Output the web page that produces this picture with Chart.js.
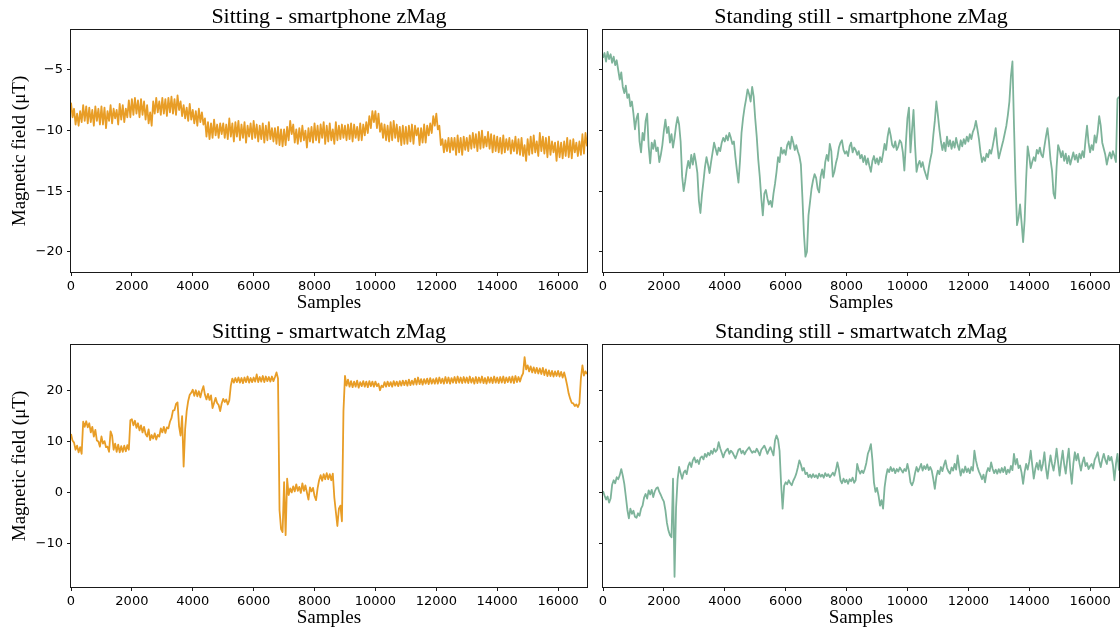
<!DOCTYPE html>
<html>
<head>
<meta charset="utf-8">
<title>zMag - sitting / standing still</title>
<script src="https://cdn.jsdelivr.net/npm/chart.js@4.4.0/dist/chart.umd.min.js"></script>
<style>
  html, body { margin: 0; padding: 0; background: #fff; }
  #wrap { position: relative; width: 1120px; height: 633px; overflow: hidden; background: #fff; }
  #wrap canvas { position: absolute; }
</style>
</head>
<body>
<div id="wrap">
  <canvas id="sitPhone" width="592" height="318" style="left:0;top:0"></canvas>
  <canvas id="standPhone" width="528" height="318" style="left:592px;top:0"></canvas>
  <canvas id="sitWatch" width="592" height="318" style="left:0;top:315px"></canvas>
  <canvas id="standWatch" width="528" height="318" style="left:592px;top:315px"></canvas>
</div>
<script>
// one value every 50 samples
var sampleStep = 50;

var xTicks = [0, 2000, 4000, 6000, 8000, 10000, 12000, 14000, 16000];
var phoneTicks = [-20, -15, -10, -5];
var watchTicks = [-10, 0, 10, 20];

// smartphone, sitting
var sitPhoneZ = [
  -7.7, -8.9, -8.2, -9.5, -8.6, -9.6, -8.4, -9.3, -7.9, -9.2, -8.0, -9.4, -8.1, -9.3, -8.3, -9.6, -8.0, -9.2, -8.2, -9.5,
  -8.0, -9.5, -8.1, -9.8, -8.4, -9.2, -7.9, -9.4, -8.2, -9.0, -8.3, -9.5, -7.8, -9.1, -7.9, -9.3, -8.2, -8.9, -7.5, -8.9,
  -7.4, -8.7, -7.3, -8.6, -7.5, -8.9, -7.4, -8.7, -7.6, -9.1, -7.9, -9.4, -8.5, -9.6, -7.6, -8.6, -7.3, -8.5, -7.6, -8.7,
  -7.3, -8.6, -7.4, -8.8, -7.3, -8.5, -7.2, -8.6, -7.4, -8.7, -7.1, -8.3, -7.6, -8.8, -7.9, -9.0, -8.1, -9.2, -7.8, -9.1,
  -8.3, -9.4, -8.4, -9.6, -8.2, -9.3, -8.5, -9.5, -9.0, -10.5, -9.3, -10.7, -9.4, -10.6, -9.1, -10.4, -9.5, -10.6, -9.4, -10.3,
  -9.4, -10.6, -9.5, -10.7, -9.0, -10.5, -9.4, -10.9, -9.3, -10.5, -9.2, -10.8, -9.5, -10.6, -9.3, -11.0, -9.6, -10.5, -9.4, -10.7,
  -9.2, -10.6, -9.5, -10.9, -9.6, -10.7, -9.4, -11.0, -9.6, -10.8, -9.3, -10.7, -9.8, -10.9, -9.8, -11.1, -9.7, -11.2, -9.9, -11.3,
  -9.9, -11.2, -9.7, -10.8, -9.2, -10.3, -9.5, -11.0, -9.9, -11.1, -9.8, -10.9, -9.6, -10.8, -10.0, -11.4, -9.8, -10.9, -9.7, -11.0,
  -9.4, -10.8, -9.6, -11.0, -9.5, -10.6, -9.3, -11.1, -9.6, -10.9, -9.4, -10.8, -9.9, -11.1, -9.3, -10.8, -9.6, -10.7, -9.5, -10.6,
  -9.6, -10.8, -9.5, -10.7, -9.4, -10.9, -9.5, -10.6, -9.7, -10.8, -9.4, -10.8, -9.5, -10.4, -9.3, -10.2, -8.8, -9.8, -8.4, -9.3,
  -8.4, -9.8, -8.6, -10.1, -9.4, -10.6, -9.5, -10.8, -9.6, -10.9, -9.3, -10.8, -9.2, -10.6, -9.5, -10.9, -9.7, -11.2, -9.6, -11.1,
  -9.7, -11.1, -9.6, -10.9, -9.5, -11.1, -9.6, -10.4, -9.8, -11.2, -9.8, -11.0, -9.5, -11.0, -9.6, -10.4, -9.4, -10.2, -8.8, -9.6,
  -8.6, -9.9, -9.6, -11.2, -10.7, -11.8, -10.8, -11.7, -10.6, -11.8, -10.6, -11.6, -10.6, -12.0, -10.4, -11.8, -10.6, -12.0, -10.5, -11.6,
  -10.6, -11.7, -10.4, -11.5, -10.2, -11.4, -10.3, -11.7, -10.1, -11.5, -10.0, -11.4, -10.5, -11.3, -10.1, -11.5, -10.3, -11.8, -10.4, -11.7,
  -10.5, -11.8, -10.6, -11.9, -10.4, -11.8, -10.7, -11.6, -10.6, -11.9, -10.8, -11.7, -10.5, -11.9, -10.7, -12.0, -10.6, -12.1, -11.2, -12.5,
  -10.7, -12.0, -10.5, -11.9, -10.4, -11.8, -10.9, -12.1, -10.2, -11.7, -10.5, -11.9, -10.6, -12.2, -10.5, -12.0, -10.9, -11.8, -11.0, -12.5,
  -10.9, -12.2, -11.0, -12.3, -10.9, -12.1, -10.6, -12.2, -10.8, -12.3, -10.7, -11.8, -11.0, -12.1, -10.9, -12.0, -10.3, -11.9, -10.2, -11.3
];

// smartphone, standing still
var standPhoneZ = [
  -4.0, -3.6, -4.3, -3.5, -4.1, -3.7, -4.4, -3.9, -4.6, -4.2, -5.0, -5.8, -5.2, -6.4, -6.9, -6.3, -7.3, -7.0, -8.0, -7.6,
  -8.6, -9.9, -9.0, -8.6, -10.9, -11.8, -10.2, -10.8, -9.2, -8.6, -11.3, -12.7, -11.0, -11.5, -10.8, -11.7, -11.4, -12.6, -12.0, -11.2,
  -10.0, -9.1, -10.2, -9.7, -11.0, -10.3, -11.4, -10.6, -9.6, -8.9, -9.5, -10.9, -13.8, -15.0, -14.2, -13.2, -12.5, -13.1, -12.0, -12.8,
  -11.9, -12.6, -13.5, -15.8, -16.8, -15.3, -14.2, -13.0, -12.2, -12.8, -13.5, -12.6, -11.8, -11.0, -11.5, -12.0, -11.4, -11.7, -11.0, -10.6,
  -10.9, -10.4, -10.8, -10.2, -10.6, -11.1, -10.9, -12.2, -13.3, -14.3, -12.5, -10.2, -9.0, -8.1, -7.4, -6.6, -7.0, -7.6, -6.4, -7.2,
  -9.0, -10.5, -12.4, -13.8, -15.6, -17.0, -15.2, -14.9, -15.6, -16.1, -15.8, -16.3, -15.2, -14.4, -13.4, -12.2, -12.6, -11.4, -11.9, -11.6,
  -12.0, -11.2, -10.9, -11.5, -10.5, -11.0, -11.6, -11.2, -11.7, -12.1, -12.8, -15.5, -18.5, -20.4, -20.0, -17.0, -15.9, -14.8, -14.1, -13.6,
  -13.9, -14.8, -15.1, -13.8, -13.2, -13.9, -12.6, -12.0, -12.5, -11.1, -11.7, -13.8, -13.4, -12.7, -12.2, -11.4, -11.0, -10.8, -11.6, -11.9,
  -11.7, -12.1, -11.3, -11.0, -11.8, -11.4, -11.6, -12.0, -11.7, -12.3, -12.0, -12.6, -12.1, -12.8, -12.3, -12.9, -13.4, -12.5, -12.1, -12.7,
  -12.3, -12.8, -12.2, -12.6, -11.9, -11.1, -11.6, -10.5, -9.8, -10.4, -11.2, -11.4, -10.9, -11.6, -11.3, -10.8, -11.0, -11.8, -13.3, -11.0,
  -9.0, -8.1, -11.8, -10.0, -8.3, -11.2, -13.4, -12.8, -12.5, -13.0, -12.6, -13.2, -13.6, -14.0, -13.1, -12.4, -11.8, -10.4, -9.2, -7.6,
  -8.7, -9.9, -10.9, -11.6, -11.0, -11.7, -10.5, -11.3, -10.8, -11.5, -10.9, -11.4, -10.6, -11.2, -11.6, -10.8, -11.3, -10.7, -11.1, -10.5,
  -10.9, -10.3, -10.7, -10.1, -9.8, -9.2, -9.9, -10.7, -11.8, -12.6, -12.2, -12.5, -11.9, -12.2, -11.6, -11.9, -11.3, -10.6, -9.8, -11.2,
  -12.3, -11.8, -11.3, -10.8, -10.2, -9.6, -8.7, -7.6, -5.5, -4.3, -9.5, -14.2, -17.8, -17.2, -16.1, -17.6, -19.2, -17.4, -14.0, -11.3,
  -12.1, -13.1, -12.6, -12.2, -12.5, -11.6, -11.9, -11.4, -12.0, -12.2, -11.3, -10.5, -9.8, -10.9, -12.4, -13.3, -15.2, -15.6, -13.0, -11.2,
  -11.6, -12.2, -11.7, -12.5, -11.9, -12.7, -12.1, -12.8, -12.3, -11.8, -12.4, -12.0, -12.6, -11.9, -12.3, -11.7, -12.2, -10.8, -9.6, -11.0,
  -11.8, -11.2, -11.6, -10.4, -11.0, -10.1, -8.8, -9.6, -11.0, -11.5, -12.0, -12.8, -12.2, -11.8, -12.3, -11.7, -12.1, -12.6, -7.4, -7.2
];

// smartwatch, sitting
var sitWatchZ = [
  11.5, 10.2, 9.8, 8.4, 9.2, 7.9, 8.9, 7.6, 13.9, 12.9, 14.0, 12.8, 13.6, 11.8, 12.9, 11.0, 12.3, 10.2, 10.0, 9.0,
  11.0, 9.6, 10.1, 8.9, 9.0, 8.0, 12.0, 11.2, 8.4, 9.6, 8.0, 9.4, 7.9, 9.1, 8.0, 9.2, 8.1, 9.3, 8.4, 14.2,
  14.4, 13.2, 14.1, 12.7, 13.6, 12.2, 13.2, 11.8, 12.9, 11.5, 11.0, 12.4, 10.3, 11.3, 10.6, 11.6, 10.4, 11.3, 11.0, 12.6,
  11.8, 12.9, 11.7, 12.8, 12.6, 13.9, 14.6, 16.1, 16.2, 17.4, 17.7, 13.0, 11.2, 15.0, 5.1, 12.5, 16.0, 18.0, 19.2, 19.6,
  20.2, 19.0, 20.1, 18.9, 19.9, 18.7, 20.0, 20.9, 19.2, 18.3, 19.4, 18.2, 19.1, 16.6, 17.6, 18.6, 17.6, 17.2, 16.0, 17.5,
  18.4, 17.8, 18.3, 17.3, 18.1, 21.0, 22.4, 21.6, 22.5, 21.7, 22.6, 21.6, 22.5, 21.5, 22.6, 21.7, 22.8, 21.6, 22.5, 21.7,
  22.6, 21.8, 23.2, 21.7, 22.7, 21.8, 22.9, 21.7, 22.8, 21.9, 22.7, 21.8, 22.8, 21.9, 22.7, 23.6, 22.4, -3.5, -7.2, -7.8,
  2.0, -8.4, 2.7, -0.5, 0.8, 0.0, 1.2, 0.2, 1.6, 0.3, 1.1, -0.1, 1.8, 0.3, 1.4, 0.0, -1.4, 1.0, 0.2, 0.9,
  -0.7, -1.5, 0.8, 2.4, 3.4, 2.3, 3.6, 2.6, 3.8, 2.6, 3.6, 2.4, 3.7, -1.0, -3.8, -6.6, -3.2, -2.6, -5.7, 16.0,
  22.9, 21.0, 22.2, 20.8, 21.9, 20.7, 21.8, 20.8, 22.0, 20.6, 21.7, 20.9, 21.9, 20.8, 21.8, 20.7, 21.9, 20.9, 21.8, 20.8,
  21.8, 20.9, 21.4, 20.1, 21.0, 20.7, 21.7, 20.8, 21.8, 20.9, 21.7, 20.8, 21.9, 21.0, 21.8, 20.9, 21.9, 21.0, 22.0, 21.1,
  22.0, 21.0, 22.2, 21.1, 22.0, 21.2, 22.4, 21.2, 22.6, 21.3, 22.3, 21.2, 22.3, 21.4, 22.4, 21.3, 22.5, 21.4, 22.3, 21.4,
  22.5, 21.4, 22.6, 21.5, 22.4, 21.4, 22.7, 21.5, 22.6, 21.4, 22.5, 21.6, 22.7, 21.5, 22.8, 21.6, 22.6, 21.5, 22.7, 21.6,
  22.6, 21.5, 22.8, 21.6, 22.5, 21.4, 22.7, 21.5, 22.6, 21.6, 22.8, 21.5, 22.5, 21.4, 22.7, 21.6, 22.6, 21.5, 22.8, 21.6,
  22.6, 21.5, 22.7, 21.6, 22.8, 21.5, 22.6, 21.7, 22.7, 21.6, 22.8, 21.5, 22.9, 21.7, 22.7, 21.8, 22.8, 23.4, 26.6, 24.2,
  25.0, 23.8, 24.8, 23.6, 24.6, 23.5, 24.5, 23.4, 24.4, 23.3, 24.5, 23.1, 24.2, 22.9, 24.0, 22.9, 23.9, 22.8, 23.8, 22.9,
  23.9, 22.8, 23.7, 22.6, 23.6, 22.4, 21.0, 19.4, 18.4, 17.6, 17.5, 17.0, 17.3, 16.8, 17.5, 22.5, 25.0, 23.0, 23.8, 23.3
];

// smartwatch, standing still
var standWatchZ = [
  0.3, -0.6, -1.4, -0.8, -2.0, -1.2, 1.5, 2.4, 1.8, 3.0, 2.6, 3.4, 4.6, 3.3, 1.7, -0.8, -3.4, -5.1, -3.2, -4.2,
  -3.6, -4.8, -5.0, -4.1, -4.6, -3.2, -2.6, -1.0, -0.3, -1.2, 0.4, -0.4, 0.5, -0.9, 0.2, 0.8, 1.0, 0.1, -0.5, -1.2,
  -1.8, -3.5, -6.0, -7.5, -8.4, -8.8, 2.7, -16.6, -3.0, 2.5, 5.0, 3.8, 2.7, 3.9, 4.3, 3.6, 5.2, 5.9, 5.0, 6.3,
  6.9, 5.9, 6.4, 5.6, 6.8, 7.1, 6.5, 7.6, 7.0, 7.8, 7.3, 8.2, 7.6, 8.6, 8.0, 8.4, 9.9, 8.7, 7.8, 6.9,
  7.8, 8.3, 8.6, 7.6, 8.2, 7.9, 7.3, 6.7, 7.5, 8.4, 8.6, 7.7, 8.2, 7.5, 8.1, 8.5, 8.9, 8.3, 7.8, 8.1,
  7.9, 8.6, 8.0, 7.3, 8.4, 8.8, 9.2, 8.5, 7.6, 8.3, 8.9, 8.1, 7.3, 10.2, 11.2, 10.4, 8.2, 1.7, -3.2, 1.3,
  2.0, 1.6, 2.4, 1.8, 1.4, 2.3, 2.9, 3.7, 4.9, 6.3, 5.5, 4.3, 4.8, 3.6, 3.9, 3.0, 3.5, 2.9, 3.6, 3.0,
  3.4, 2.8, 3.7, 3.1, 3.5, 2.9, 3.8, 3.2, 3.6, 3.0, 3.4, 3.9, 3.3, 4.4, 5.9, 4.5, 2.4, 1.8, 2.7, 2.0,
  2.5, 1.7, 2.6, 2.2, 2.9, 1.9, 2.4, 5.6, 4.4, 3.7, 4.3, 3.8, 4.6, 5.8, 7.6, 8.4, 9.5, 6.4, 2.0, 0.1,
  0.9, -0.6, -2.6, -1.5, -3.2, 1.0, 3.2, 4.6, 4.0, 5.0, 4.2, 4.7, 3.8, 4.6, 4.1, 4.9, 4.4, 3.9, 4.6, 4.2,
  5.6, 4.2, 2.0, 1.4, 2.2, 3.8, 5.0, 4.1, 4.8, 5.6, 4.3, 5.2, 4.6, 5.5, 4.4, 5.0, 4.3, 2.6, 0.7, 3.1,
  4.3, 3.6, 5.0, 4.2, 5.4, 6.3, 4.8, 4.1, 3.7, 4.9, 4.3, 5.6, 4.5, 7.3, 5.0, 3.3, 4.6, 3.9, 5.1, 4.0,
  4.7, 3.8, 5.0, 4.3, 8.2, 6.3, 5.0, 4.1, 3.4, 2.6, 3.5, 2.0, 3.9, 4.8, 4.2, 5.9, 4.6, 3.8, 4.5, 3.7,
  4.6, 3.9, 4.8, 4.0, 5.0, 3.6, 4.5, 3.9, 5.2, 4.4, 7.6, 5.5, 6.6, 4.8, 5.3, 3.9, 1.7, 4.0, 5.6, 4.5,
  6.0, 8.2, 5.4, 2.7, 4.6, 5.8, 4.5, 6.3, 4.3, 5.6, 7.9, 4.8, 2.7, 5.2, 7.3, 5.6, 4.3, 6.1, 8.6, 5.9,
  3.3, 6.0, 8.2, 5.5, 3.7, 6.4, 8.6, 4.5, 1.7, 5.6, 7.9, 6.3, 7.6, 5.8, 4.3, 5.9, 6.9, 5.2, 5.8, 4.6,
  5.2, 5.6, 4.7, 6.4, 7.1, 7.9, 6.2, 5.0, 6.5, 7.6, 6.4, 5.6, 7.2, 6.3, 7.0, 5.4, 2.4, 5.6, 7.6, 4.3
];

var sitColor = '#E89D26';
var standColor = '#7DB39A';
var serif = 'Liberation Serif';

Chart.defaults.font.family = 'DejaVu Sans';
Chart.defaults.color = '#000';

// matplotlib style frame round the plot area
var frameBox = {
  id: 'frameBox',
  afterDraw: function(chart) {
    var a = chart.chartArea;
    var c = chart.ctx;
    c.save();
    c.strokeStyle = '#1a1a1a';
    c.lineWidth = 1;
    c.strokeRect(a.left - 0.5, a.top - 0.5, a.right - a.left + 1, a.bottom - a.top + 1);
    c.restore();
  }
};

function minusSign(v) {
  return String(v).replace('-', '\u2212');
}

function makePanel(canvasId, title, values, color, yMin, yMax, yTicks, isLeft) {
  var points = values.map(function(v, i) {
    return { x: i * sampleStep, y: v };
  });

  new Chart(document.getElementById(canvasId).getContext('2d'), {
    type: 'line',
    data: {
      datasets: [{
        data: points,
        borderColor: color,
        borderWidth: 1.8,
        borderJoinStyle: 'round',
        pointRadius: 0,
        tension: 0,
        fill: false
      }]
    },
    options: {
      responsive: false,
      animation: false,
      parsing: false,
      events: [],
      layout: { padding: { left: 0, right: isLeft ? 5 : 1, top: 0, bottom: 0 } },
      plugins: {
        legend: { display: false },
        tooltip: { enabled: false },
        title: {
          display: true,
          text: title,
          fullSize: false,
          color: '#000',
          font: { family: serif, size: 22, weight: 'normal', lineHeight: 1 },
          padding: { top: 6.6, bottom: 1.4 }
        }
      },
      scales: {
        x: {
          type: 'linear',
          min: 0,
          max: 16950,
          afterBuildTicks: function(scale) {
            scale.ticks = xTicks.map(function(v) { return { value: v }; });
          },
          afterFit: function(scale) { scale.height = 46; },
          border: { display: false },
          grid: { drawOnChartArea: false, drawTicks: true, tickLength: 4, color: '#1a1a1a', lineWidth: 1 },
          ticks: {
            padding: 3,
            autoSkip: false,
            maxRotation: 0,
            color: '#000',
            font: { size: 13 },
            callback: function(v) { return String(v); }
          },
          title: {
            display: true,
            text: 'Samples',
            color: '#000',
            font: { family: serif, size: 19, lineHeight: 1 },
            padding: { top: 0, bottom: 5 }
          }
        },
        y: {
          type: 'linear',
          min: yMin,
          max: yMax,
          afterBuildTicks: function(scale) {
            scale.ticks = yTicks.map(function(v) { return { value: v }; });
          },
          afterFit: function(scale) { scale.width = isLeft ? 71 : 11; },
          border: { display: false },
          grid: { drawOnChartArea: false, drawTicks: true, tickLength: 4, color: '#1a1a1a', lineWidth: 1 },
          ticks: {
            padding: 4,
            color: '#000',
            font: { size: 13 },
            callback: function(v) { return isLeft ? minusSign(v) : ''; }
          },
          title: {
            display: isLeft,
            text: 'Magnetic field (\u03bcT)',
            color: '#000',
            font: { family: serif, size: 19, lineHeight: 1 },
            padding: { top: 11, bottom: 0 }
          }
        }
      }
    },
    plugins: [frameBox]
  });
}

makePanel('sitPhone', 'Sitting - smartphone zMag', sitPhoneZ, sitColor, -21.67, -1.7, phoneTicks, true);
makePanel('standPhone', 'Standing still - smartphone zMag', standPhoneZ, standColor, -21.67, -1.7, phoneTicks, false);
makePanel('sitWatch', 'Sitting - smartwatch zMag', sitWatchZ, sitColor, -18.6, 29.0, watchTicks, true);
makePanel('standWatch', 'Standing still - smartwatch zMag', standWatchZ, standColor, -18.6, 29.0, watchTicks, false);
</script>
</body>
</html>
